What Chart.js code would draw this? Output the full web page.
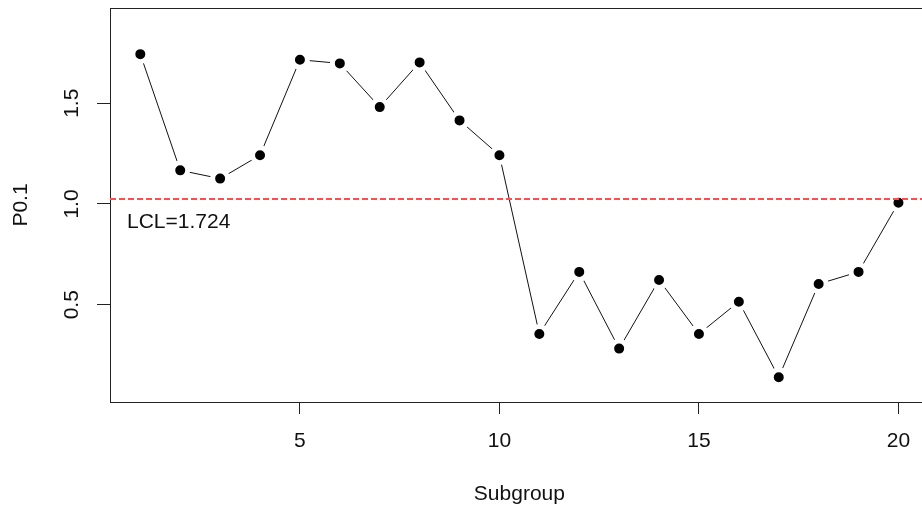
<!DOCTYPE html>
<html>
<head>
<meta charset="utf-8">
<script src="https://cdn.jsdelivr.net/npm/chart.js@4.4.1/dist/chart.umd.min.js"></script>
<style>
    html, body { margin: 0; padding: 0; background: #ffffff; }
    #wrap { width: 922px; height: 514px; }
</style>
</head>
<body>
<div id="wrap"><canvas id="qccChart"></canvas></div>
<script>
// data
const subgroups = [1, 2, 3, 4, 5, 6, 7, 8, 9, 10, 11, 12, 13, 14, 15, 16, 17, 18, 19, 20];
const p01Values = [1.744, 1.167, 1.126, 1.242, 1.716, 1.698, 1.481, 1.703, 1.415, 1.242,
                   0.355, 0.663, 0.282, 0.623, 0.355, 0.515, 0.140, 0.603, 0.663, 1.006];
const xTicks = [5, 10, 15, 20];
const yTicks = [0.5, 1.0, 1.5];
const lclValue = 1.025;
const lclLabel = 'LCL=1.724';
const xTitle = 'Subgroup';
const yTitle = 'P0.1';

const FONT = '"Liberation Sans", Arial, sans-serif';

// R style frame, labels and the LCL line
const rStylePlugin = {
    id: 'rStyle',
    afterDatasetsDraw(chart) {
        const ctx = chart.ctx;
        const area = chart.chartArea;
        const xs = chart.scales.x;
        const ys = chart.scales.y;

        // box (right side falls off the canvas as in the picture)
        ctx.save();
        ctx.strokeStyle = '#222';
        ctx.lineWidth = 1;
        ctx.strokeRect(area.left + 0.5, area.top + 0.5, area.right - area.left + 10, area.bottom - area.top);
        ctx.restore();

        // LCL line
        const ly = ys.getPixelForValue(lclValue);
        ctx.save();
        ctx.strokeStyle = '#ff4d4d';
        ctx.lineWidth = 2;
        ctx.setLineDash([6, 3]);
        ctx.beginPath();
        ctx.moveTo(area.left, ly);
        ctx.lineTo(area.right, ly);
        ctx.stroke();
        ctx.restore();

        ctx.save();
        ctx.fillStyle = '#111';
        ctx.font = '21px ' + FONT;
        ctx.textAlign = 'left';
        ctx.textBaseline = 'alphabetic';
        ctx.fillText(lclLabel, area.left + 17, ly + 29);
        ctx.restore();

        // y tick labels, rotated
        ctx.save();
        ctx.fillStyle = '#111';
        ctx.font = '21px ' + FONT;
        ctx.textAlign = 'center';
        ctx.textBaseline = 'middle';
        yTicks.forEach(v => {
            const py = ys.getPixelForValue(v);
            ctx.save();
            ctx.translate(area.left - 38, py);
            ctx.rotate(-Math.PI / 2);
            ctx.fillText(v.toFixed(1), 0, 0);
            ctx.restore();
        });

        // axis titles
        ctx.save();
        ctx.translate(21, (area.top + area.bottom) / 2);
        ctx.rotate(-Math.PI / 2);
        ctx.fillText(yTitle, 0, 0);
        ctx.restore();

        ctx.fillText(xTitle, xs.getPixelForValue(10.5), area.bottom + 92);
        ctx.restore();
    }
};

const ctx = document.getElementById('qccChart').getContext('2d');
new Chart(ctx, {
    type: 'scatter',
    data: {
        datasets: [{
            data: subgroups.map((s, i) => ({ x: s, y: p01Values[i] })),
            showLine: true,
            borderColor: '#111',
            borderWidth: 1,
            pointRadius: 7.5,
            pointBackgroundColor: '#000',
            pointBorderColor: '#ffffff',
            pointBorderWidth: 5,
            pointHoverRadius: 7.5
        }]
    },
    options: {
        responsive: true,
        maintainAspectRatio: false,
        animation: false,
        layout: { autoPadding: false, padding: { top: 8, right: 0, bottom: 0, left: 0 } },
        plugins: {
            legend: { display: false },
            tooltip: { enabled: false },
            title: { display: false }
        },
        scales: {
            x: {
                type: 'linear',
                min: 0.24,
                max: 20.59,
                afterBuildTicks: axis => { axis.ticks = xTicks.map(v => ({ value: v })); },
                afterFit: axis => { axis.height = 112; axis.paddingLeft = 0; axis.paddingRight = 0; },
                grid: { drawOnChartArea: false, drawTicks: true, tickLength: 12, tickColor: '#222' },
                border: { display: false },
                ticks: {
                    color: '#111',
                    padding: 15,
                    maxRotation: 0,
                    font: { family: FONT, size: 21 }
                }
            },
            y: {
                type: 'linear',
                min: 0.017,
                max: 1.973,
                afterBuildTicks: axis => { axis.ticks = yTicks.map(v => ({ value: v })); },
                afterFit: axis => { axis.width = 110; axis.paddingTop = 0; axis.paddingBottom = 0; },
                grid: { drawOnChartArea: false, drawTicks: true, tickLength: 13, tickColor: '#222' },
                border: { display: false },
                ticks: { display: false }
            }
        }
    },
    plugins: [rStylePlugin]
});
</script>
</body>
</html>
